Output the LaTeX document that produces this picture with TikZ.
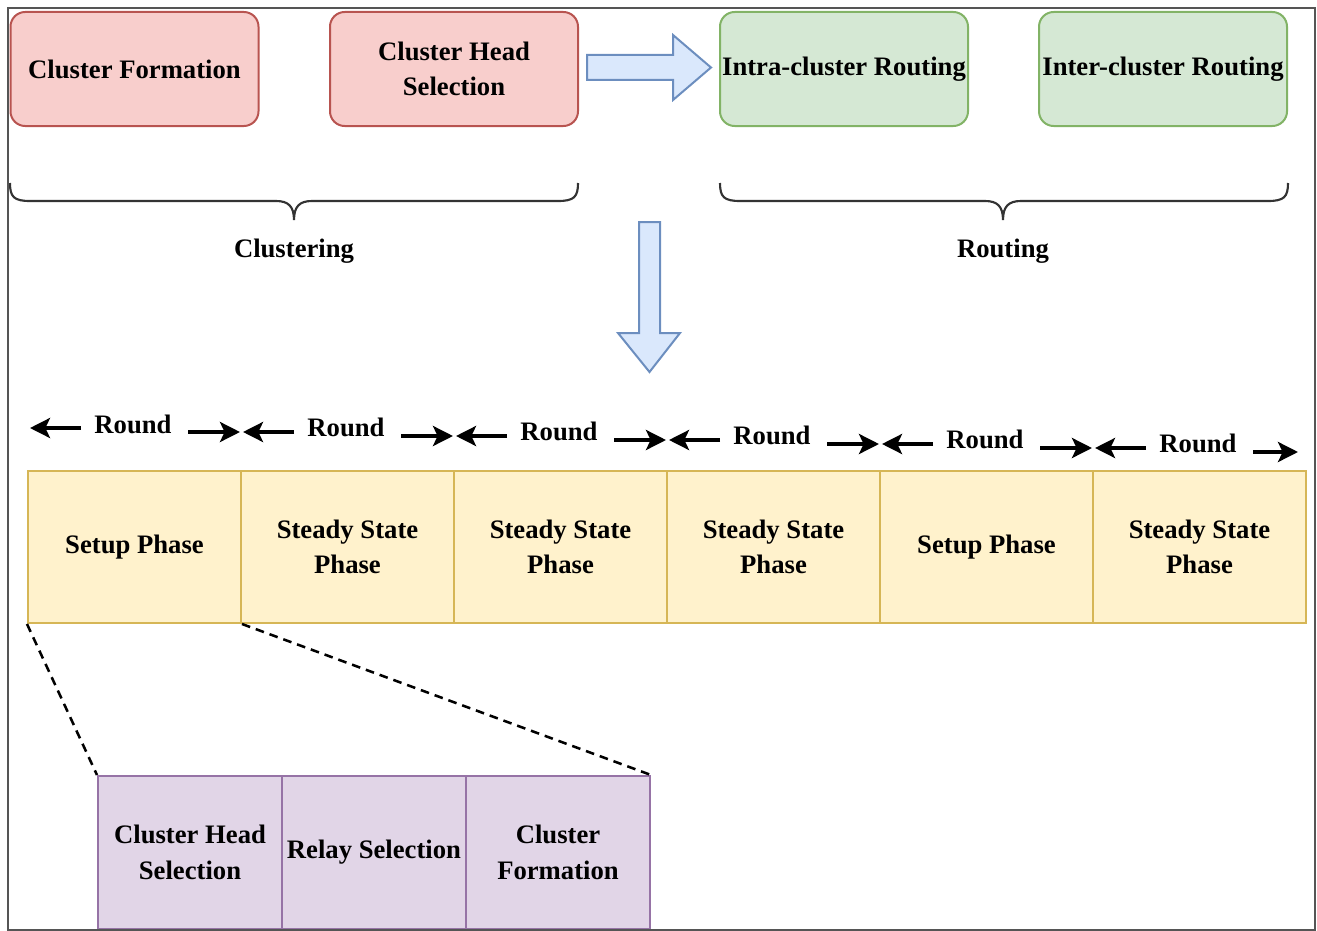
\documentclass[tikz,border=0pt]{standalone}
\usepackage{fontspec}
\setmainfont{Liberation Serif}
\usetikzlibrary{arrows.meta}
\definecolor{pinkF}{HTML}{F8CECC}\definecolor{pinkD}{HTML}{B85450}
\definecolor{greenF}{HTML}{D5E8D4}\definecolor{greenD}{HTML}{82B366}
\definecolor{blueF}{HTML}{DAE8FC}\definecolor{blueD}{HTML}{6C8EBF}
\definecolor{yelF}{HTML}{FFF2CC}\definecolor{yelD}{HTML}{D6B656}
\definecolor{purF}{HTML}{E1D5E7}\definecolor{purD}{HTML}{9673A6}
\definecolor{braceC}{HTML}{333333}
\definecolor{frameC}{HTML}{555555}
\tikzset{
  topbox/.style={rounded corners=11pt, line width=1.5pt, minimum width=186pt, minimum height=85.5pt, inner sep=0pt, align=center},
  redbox/.style={topbox, fill=pinkF, draw=pinkD},
  grnbox/.style={topbox, fill=greenF, draw=greenD},
  phase/.style={fill=yelF, draw=yelD, line width=1.5pt, minimum width=159.75pt, minimum height=114pt, inner sep=0pt, align=center},
  sub/.style={fill=purF, draw=purD, line width=1.5pt, minimum width=138pt, minimum height=114.75pt, inner sep=0pt, align=center},
  blockarrow/.style={fill=blueF, draw=blueD, line width=1.5pt, line join=miter},
  bracecurve/.style={draw=braceC, line width=1.6pt},
  rarrow/.style={line width=2.8pt, -{Stealth[length=15pt,width=15pt,inset=3.5pt]}},
  dashline/.style={line width=1.9pt, dash pattern=on 6.5pt off 4.5pt},
  lbl/.style={inner sep=0pt, align=center}
}
\begin{document}
\begin{tikzpicture}[x=0.75pt,y=-0.75pt, font=\fontsize{20}{26.5}\selectfont\bfseries]
\useasboundingbox (0,0) rectangle (1317,931);

% top boxes
\node[redbox] (cf) at (134.5,69) {Cluster Formation};
\node[redbox] (chs) at (454,69) {Cluster Head\\Selection};
\node[grnbox] (intra) at (844,69) {Intra-cluster Routing};
\node[grnbox] (inter) at (1163,69) {Inter-cluster Routing};

% right block arrow
\draw[blockarrow] (587,55) -- (673,55) -- (673,35) -- (711,67.5) -- (673,100) -- (673,80) -- (587,80) -- cycle;

% braces
\draw[bracecurve] (10,183) .. controls (10,197) and (14,201) .. (30,201) -- (276,201)
  .. controls (288,201) and (294,206) .. (294,220)
  .. controls (294,206) and (300,201) .. (312,201) -- (558,201)
  .. controls (574,201) and (578,197) .. (578,183);
\draw[bracecurve] (720,183) .. controls (720,197) and (724,201) .. (740,201) -- (985,201)
  .. controls (997,201) and (1003,206) .. (1003,220)
  .. controls (1003,206) and (1009,201) .. (1021,201) -- (1268,201)
  .. controls (1284,201) and (1288,197) .. (1288,183);
\node[lbl] (clus) at (294,251) {Clustering};
\node[lbl] (rout) at (1003,251) {Routing};

% down block arrow
\draw[blockarrow] (639,222) -- (660,222) -- (660,333) -- (680,333) -- (649.5,372) -- (618,333) -- (639,333) -- cycle;

% phase cells
\node[phase] (c1) at (134.5,547) {Setup Phase};
\node[phase] (c2) at (347.5,547) {Steady State\\Phase};
\node[phase] (c3) at (560.5,547) {Steady State\\Phase};
\node[phase] (c4) at (773.5,547) {Steady State\\Phase};
\node[phase] (c5) at (986.5,547) {Setup Phase};
\node[phase] (c6) at (1199.5,547) {Steady State\\Phase};

% round arrows
\foreach \i in {0,...,5}{
  \pgfmathsetmacro\xx{28+213*\i}
  \pgfmathsetmacro\rt{min(\xx+212,1298)}
  \node[lbl] (r\i) at (\xx+105,424+3.8*\i) {Round};
  \coordinate (ls\i) at (\xx+53,428+4*\i);
  \coordinate (lt\i) at (\xx+2,428+4*\i);
  \coordinate (rs\i) at (\xx+160,432+4*\i);
  \coordinate (rt\i) at (\rt,432+4*\i);
  \draw[rarrow] (ls\i) -- (lt\i);
  \draw[rarrow] (rs\i) -- (rt\i);
}

% sub cells
\node[sub] (p1) at (190,852.5) {Cluster Head\\Selection};
\node[sub] (p2) at (374,852.5) {Relay Selection};
\node[sub] (p3) at (558,852.5) {Cluster\\Formation};

% dashed zoom lines
\draw[dashline] (c1.south west) -- (p1.north west);
\draw[dashline] (c1.south east) -- (p3.north east);

% frame
\draw[draw=frameC, line width=1.2pt] (8,8) rectangle (1315,930);
\end{tikzpicture}
\end{document}
